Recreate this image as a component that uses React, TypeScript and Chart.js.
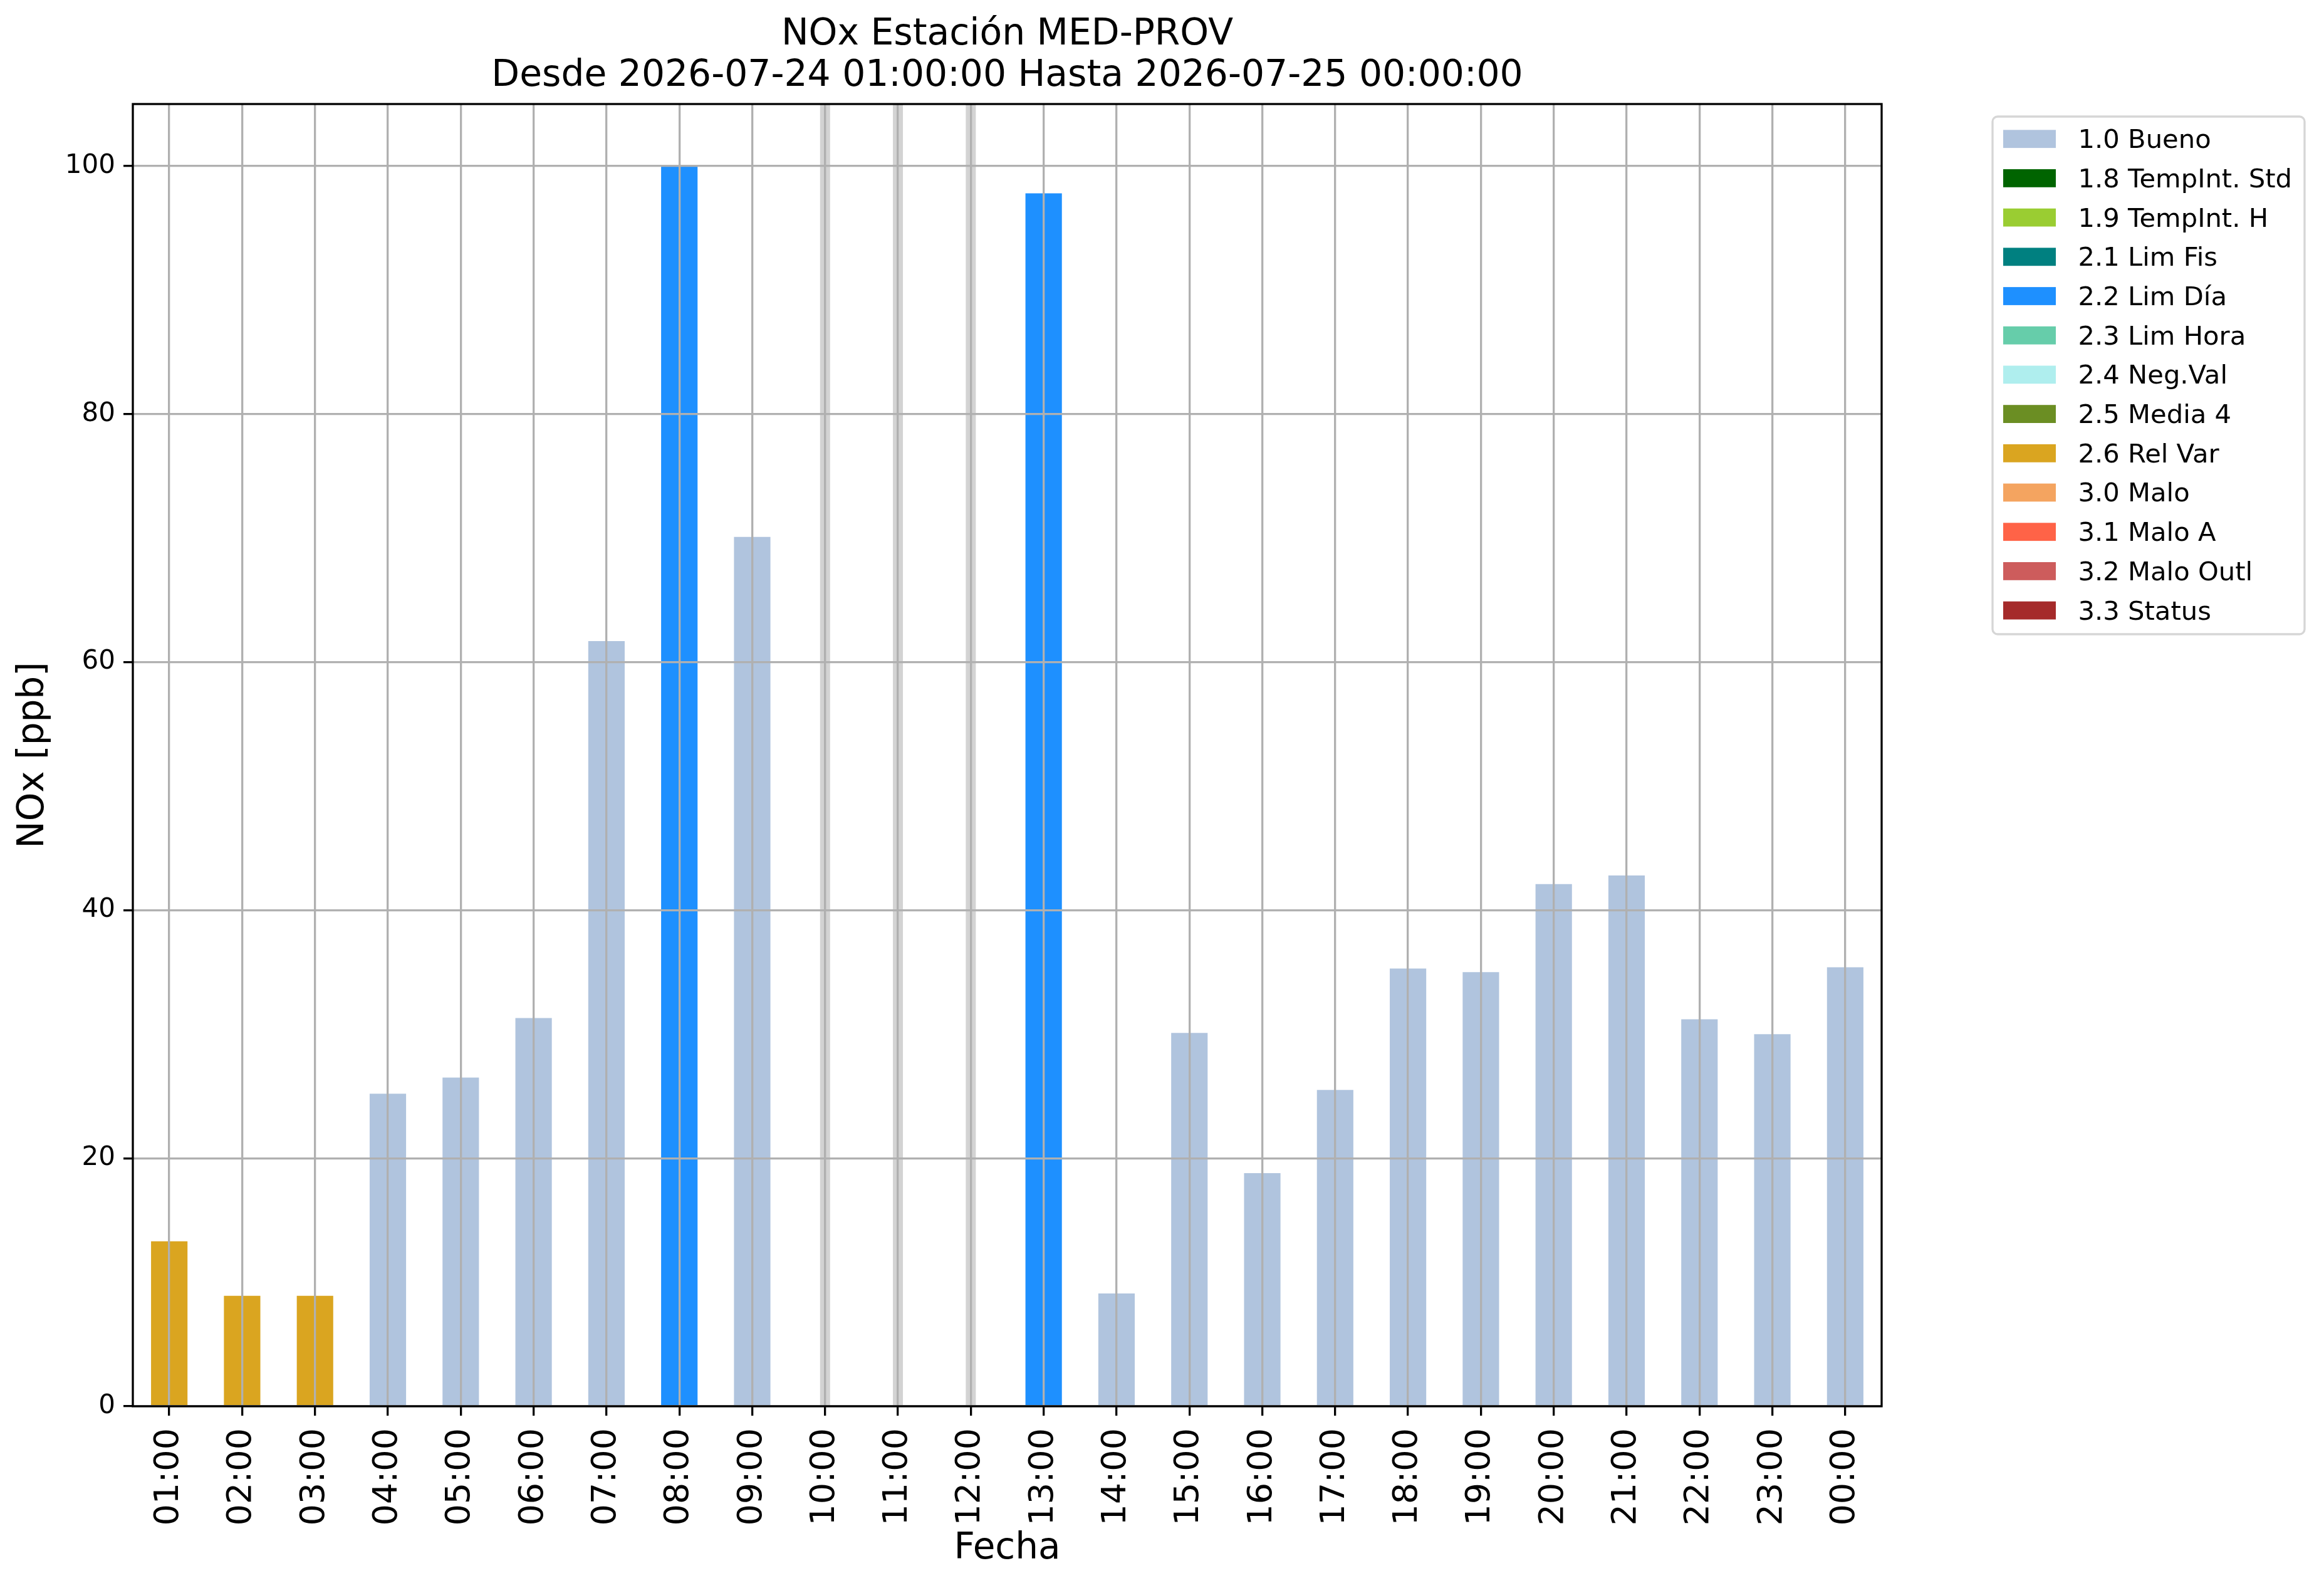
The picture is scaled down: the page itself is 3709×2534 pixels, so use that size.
import React, { useEffect, useRef } from "react";
import { Chart, registerables } from "chart.js";

Chart.register(...registerables);

// ---------- data ----------
const hours = [
  "01:00", "02:00", "03:00", "04:00", "05:00", "06:00", "07:00", "08:00",
  "09:00", "10:00", "11:00", "12:00", "13:00", "14:00", "15:00", "16:00",
  "17:00", "18:00", "19:00", "20:00", "21:00", "22:00", "23:00", "00:00",
];

const noxValues: (number | null)[] = [
  13.3, 8.9, 8.9, 25.2, 26.5, 31.3, 61.7, 100.0,
  70.1, null, null, null, 97.8, 9.1, 30.1, 18.8,
  25.5, 35.3, 35.0, 42.1, 42.8, 31.2, 30.0, 35.4,
];

const noxFlags = [
  "2.6", "2.6", "2.6", "1.0", "1.0", "1.0", "1.0", "2.2",
  "1.0", "", "", "", "2.2", "1.0", "1.0", "1.0",
  "1.0", "1.0", "1.0", "1.0", "1.0", "1.0", "1.0", "1.0",
];

const flagCodes = ["1.0", "1.8", "1.9", "2.1", "2.2", "2.3", "2.4", "2.5", "2.6", "3.0", "3.1", "3.2", "3.3"];
const flagLabels = [
  "1.0 Bueno", "1.8 TempInt. Std", "1.9 TempInt. H", "2.1 Lim Fis", "2.2 Lim Día",
  "2.3 Lim Hora", "2.4 Neg.Val", "2.5 Media 4", "2.6 Rel Var", "3.0 Malo",
  "3.1 Malo A", "3.2 Malo Outl", "3.3 Status",
];
const flagColors = [
  "#B0C4DE", "#006400", "#9ACD32", "#008080", "#1E90FF",
  "#66CDAA", "#AFEEEE", "#6B8E23", "#DAA520", "#F4A460",
  "#FF6347", "#CD5C5C", "#A52A2A",
];

const yTicks = [0, 20, 40, 60, 80, 100];
const yMax = 105;

const titleLines = ["NOx Estación MED-PROV", "Desde 2026-07-24 01:00:00 Hasta 2026-07-25 00:00:00"];
const xTitle = "Fecha";
const yTitle = "NOx [ppb]";

// ---------- styling ----------
const W = 3709;
const H = 2534;
const FONT = "'DejaVu Sans', 'Liberation Sans', sans-serif";
const LW = 3.3;

const missingBandsPlugin = {
  id: "missingBands",
  beforeDatasetsDraw(chart: any) {
    const { ctx, chartArea, scales } = chart;
    const x = scales.x;
    ctx.save();
    ctx.fillStyle = "#d3d3d3";
    noxValues.forEach((v, i) => {
      if (v === null) {
        const px = x.getPixelForValue(i);
        ctx.fillRect(px - 8, chartArea.top, 16, chartArea.bottom - chartArea.top);
      }
    });
    ctx.restore();
  },
};

const framePlugin = {
  id: "frame",
  afterDraw(chart: any) {
    const { ctx, chartArea } = chart;
    ctx.save();
    ctx.strokeStyle = "#000";
    ctx.lineWidth = LW;
    ctx.strokeRect(chartArea.left, chartArea.top, chartArea.right - chartArea.left, chartArea.bottom - chartArea.top);
    ctx.restore();
  },
};

const legendPlugin = {
  id: "mplLegend",
  afterDraw(chart: any) {
    const ctx = chart.ctx;
    const bx = 3180, by = 186, bw = 498, bh = 826, r = 8;
    ctx.save();
    ctx.beginPath();
    ctx.moveTo(bx + r, by);
    ctx.lineTo(bx + bw - r, by);
    ctx.arcTo(bx + bw, by, bx + bw, by + r, r);
    ctx.lineTo(bx + bw, by + bh - r);
    ctx.arcTo(bx + bw, by + bh, bx + bw - r, by + bh, r);
    ctx.lineTo(bx + r, by + bh);
    ctx.arcTo(bx, by + bh, bx, by + bh - r, r);
    ctx.lineTo(bx, by + r);
    ctx.arcTo(bx, by, bx + r, by, r);
    ctx.closePath();
    ctx.fillStyle = "rgba(255,255,255,0.8)";
    ctx.fill();
    ctx.strokeStyle = "#d6d6d6";
    ctx.lineWidth = LW;
    ctx.stroke();
    ctx.font = `41.7px ${FONT}`;
    ctx.textAlign = "left";
    ctx.textBaseline = "alphabetic";
    chart.data.datasets.forEach((ds: any, i: number) => {
      const top = 207.3 + i * 62.7;
      ctx.fillStyle = ds.backgroundColor;
      ctx.fillRect(3197, top, 84, 28.8);
      ctx.fillStyle = "#000";
      ctx.fillText(ds.label, 3316.5, top + 28.8);
    });
    ctx.restore();
  },
};

export default function App() {
  const canvasRef = useRef<HTMLCanvasElement | null>(null);

  useEffect(() => {
    document.body.style.margin = "0";
    const canvas = canvasRef.current;
    if (!canvas) return;

    const datasets = flagCodes.map((code, i) => ({
      label: flagLabels[i],
      backgroundColor: flagColors[i],
      borderWidth: 0,
      data: noxValues.map((v, j) => (noxFlags[j] === code ? v : null)),
      categoryPercentage: 1.0,
      barPercentage: 0.5,
    }));

    const chart = new Chart(canvas, {
      type: "bar",
      data: { labels: hours, datasets },
      options: {
        animation: false,
        responsive: false,
        devicePixelRatio: 1,
        events: [],
        layout: { padding: { left: 0, right: 706, top: 0, bottom: 0 } },
        plugins: {
          legend: { display: false },
          tooltip: { enabled: false },
          title: {
            display: true,
            fullSize: false,
            text: titleLines,
            color: "#000",
            font: { family: FONT, size: 58.3, weight: "normal", lineHeight: 1.127 },
            padding: { top: 22.95, bottom: 11.65 },
          },
        },
        scales: {
          x: {
            stacked: true,
            offset: true,
            grid: {
              z: 1,
              offset: false,
              color: "#b0b0b0",
              lineWidth: LW,
              drawTicks: true,
              tickLength: 15,
              tickColor: "#000",
              tickWidth: LW,
            },
            border: { display: false },
            ticks: {
              z: 1,
              autoSkip: false,
              minRotation: 90,
              maxRotation: 90,
              padding: 20,
              color: "#000",
              font: { family: FONT, size: 54 },
            },
            title: {
              display: true,
              text: xTitle,
              color: "#000",
              font: { family: FONT, size: 58 },
              padding: { top: 0, bottom: 27 },
            },
            afterFit(scale: any) {
              scale.height = H - 2244;
            },
          },
          y: {
            stacked: true,
            min: 0,
            max: yMax,
            grid: {
              z: 1,
              color: "#b0b0b0",
              lineWidth: LW,
              drawTicks: true,
              tickLength: 15,
              tickColor: "#000",
              tickWidth: LW,
            },
            border: { display: false },
            ticks: {
              z: 1,
              stepSize: 20,
              padding: 13,
              color: "#000",
              font: { family: FONT, size: 42 },
            },
            afterBuildTicks(scale: any) {
              scale.ticks = yTicks.map((v) => ({ value: v }));
            },
            title: {
              display: true,
              text: yTitle,
              color: "#000",
              font: { family: FONT, size: 58 },
              padding: { top: 19, bottom: 0 },
            },
            afterFit(scale: any) {
              scale.width = 212;
            },
          },
        },
      },
      plugins: [missingBandsPlugin, framePlugin, legendPlugin],
    } as any);

    return () => chart.destroy();
  }, []);

  return (
    <canvas
      ref={canvasRef}
      width={W}
      height={H}
      style={{ display: "block", width: W, height: H }}
    />
  );
}
